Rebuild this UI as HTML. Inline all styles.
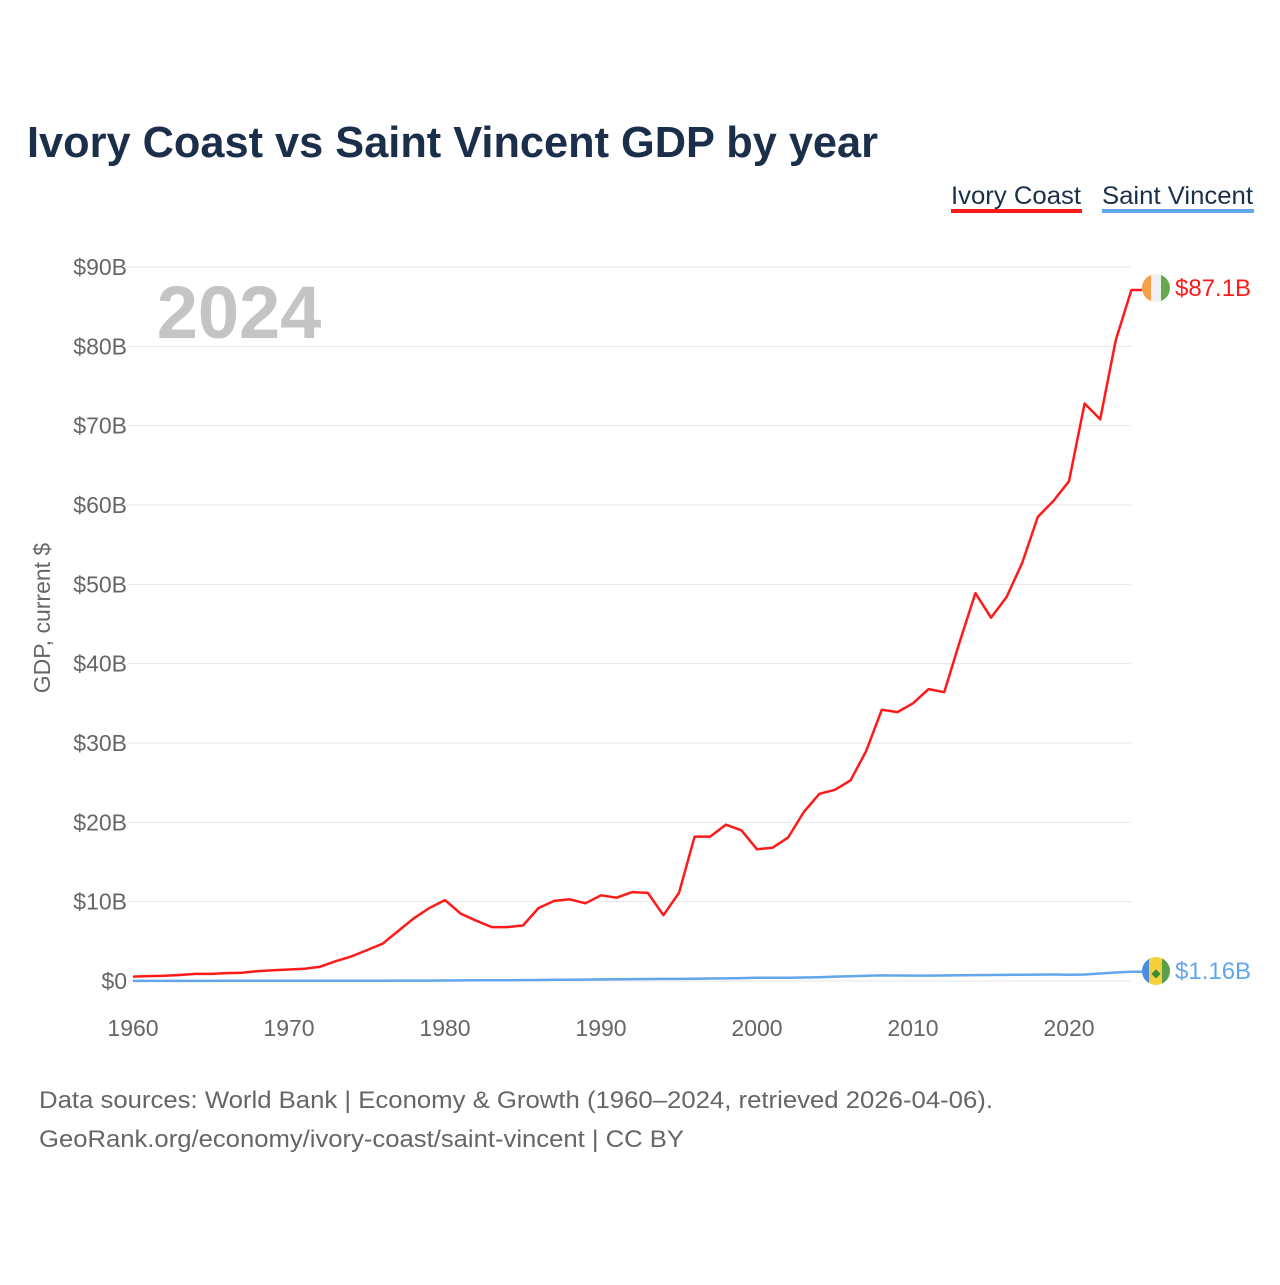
<!DOCTYPE html>
<html><head><meta charset="utf-8"><style>
body{margin:0;background:#fff;font-family:"Liberation Sans",sans-serif;}
svg text{font-family:"Liberation Sans",sans-serif;}
</style></head><body>
<svg width="1280" height="1280" viewBox="0 0 1280 1280">
<text x="27" y="157" font-size="44" font-weight="bold" fill="#1b2f4b" textLength="851" lengthAdjust="spacingAndGlyphs">Ivory Coast vs Saint Vincent GDP by year</text>
<g>
<text x="951" y="204" font-size="25" fill="#1b2f4b" textLength="130" lengthAdjust="spacingAndGlyphs">Ivory Coast</text>
<rect x="951" y="209" width="131" height="4" fill="#ff1a1a"/>
<text x="1102" y="204" font-size="25" fill="#1b2f4b" textLength="151" lengthAdjust="spacingAndGlyphs">Saint Vincent</text>
<rect x="1102" y="209" width="152" height="4" fill="#62a6ec"/>
</g>
<g id="grid"></g>
<g id="yticks"></g>
<g id="xticks"></g>
<text x="239" y="338" font-size="74" font-weight="bold" fill="#c4c4c4" text-anchor="middle">2024</text>
<text transform="translate(50,618) rotate(-90)" font-size="23" fill="#666" text-anchor="middle">GDP, current $</text>
<g id="series"></g>
<g>
<clipPath id="c1"><circle cx="1156" cy="288" r="14"/></clipPath>
<g clip-path="url(#c1)"><rect x="1142" y="274" width="10" height="28" fill="#f7a04a"/><rect x="1151" y="274" width="10" height="28" fill="#f0f0f0"/><rect x="1161" y="274" width="10" height="28" fill="#6aa84f"/></g>
</g>
<text x="1175" y="296" font-size="24" fill="#ff1a1a">$87.1B</text>
<g>
<clipPath id="c2"><circle cx="1156" cy="971" r="14"/></clipPath>
<g clip-path="url(#c2)"><rect x="1142" y="957" width="8" height="28" fill="#4a8ee0"/><rect x="1149" y="957" width="14" height="28" fill="#f5d03a"/><rect x="1162" y="957" width="9" height="28" fill="#5aa04a"/><text x="1156" y="977" font-size="12" fill="#3a8a3a" text-anchor="middle">◆</text></g>
</g>
<text x="1175" y="979" font-size="24" fill="#62a6ec">$1.16B</text>
<text x="39" y="1108" font-size="24" fill="#666" textLength="954" lengthAdjust="spacingAndGlyphs">Data sources: World Bank | Economy &amp; Growth (1960–2024, retrieved 2026-04-06).</text>
<text x="39" y="1147" font-size="24" fill="#666" textLength="645" lengthAdjust="spacingAndGlyphs">GeoRank.org/economy/ivory-coast/saint-vincent | CC BY</text>
</svg>
<script>
const years = [];
for (let y = 1960; y <= 2024; y++) years.push(y);
const ivoryCoast = [0.55,0.62,0.65,0.75,0.9,0.9,1.0,1.05,1.25,1.35,1.45,1.55,1.8,2.5,3.1,3.9,4.7,6.3,7.9,9.2,10.2,8.5,7.6,6.8,6.8,7.0,9.2,10.1,10.3,9.8,10.8,10.5,11.2,11.1,8.3,11.1,18.2,18.2,19.7,19.0,16.6,16.8,18.1,21.3,23.6,24.1,25.3,29.0,34.2,33.9,35.0,36.8,36.4,42.8,48.9,45.8,48.4,52.7,58.5,60.5,63.0,72.8,70.8,80.8,87.1];
const saintVincent = [0.013,0.014,0.015,0.016,0.017,0.018,0.019,0.019,0.02,0.021,0.022,0.024,0.027,0.03,0.033,0.036,0.04,0.045,0.05,0.055,0.06,0.075,0.085,0.095,0.1,0.11,0.13,0.15,0.17,0.18,0.2,0.22,0.24,0.25,0.26,0.27,0.29,0.31,0.33,0.36,0.4,0.41,0.42,0.44,0.48,0.55,0.6,0.66,0.7,0.69,0.68,0.68,0.69,0.72,0.74,0.76,0.77,0.79,0.81,0.82,0.79,0.82,0.95,1.07,1.16];
const yTickValues = [0,10,20,30,40,50,60,70,80,90];
const yTickLabels = ["$0","$10B","$20B","$30B","$40B","$50B","$60B","$70B","$80B","$90B"];
const xTickValues = [1960,1970,1980,1990,2000,2010,2020];
const xTickLabels = ["1960","1970","1980","1990","2000","2010","2020"];
const NS = "http://www.w3.org/2000/svg";
const xs = y => 133 + (y - 1960) * 15.6;
const ys = v => 981 - v * (714 / 90);
function mk(tag, attrs, parent){const e=document.createElementNS(NS,tag);for(const k in attrs)e.setAttribute(k,attrs[k]);parent.appendChild(e);return e;}
const grid=document.getElementById('grid'), yt=document.getElementById('yticks'), xt=document.getElementById('xticks'), ser=document.getElementById('series');
yTickValues.forEach((v,i)=>{
  const l=mk('line',{x1:128,x2:1131,y1:ys(v),y2:ys(v),stroke:'#e6e6e6','stroke-width':1},grid);
  
  
  const t=mk('text',{x:127,y:ys(v)+8,'font-size':23,fill:'#666','text-anchor':'end'},yt);
  t.textContent=yTickLabels[i];
  
  
});
xTickValues.forEach((v,i)=>{
  const t=mk('text',{x:xs(v),y:1036,'font-size':23,fill:'#666','text-anchor':'middle'},xt);
  t.textContent=xTickLabels[i];
  
  
});
function line(data,color,name,endX){
  let d=data.map((v,i)=>(i?'L':'M')+xs(years[i]).toFixed(1)+','+ys(v).toFixed(1)).join('');
  d+='L'+endX+','+ys(data[data.length-1]).toFixed(1);
  const p=mk('path',{d:d,fill:'none',stroke:color,'stroke-width':2.5,'stroke-linejoin':'round'},ser);
  
  
}
line(saintVincent,'#62a6ec','saint-vincent-line',1142);
line(ivoryCoast,'#ff1a1a','ivory-coast-line',1142);
</script>
</body></html>
